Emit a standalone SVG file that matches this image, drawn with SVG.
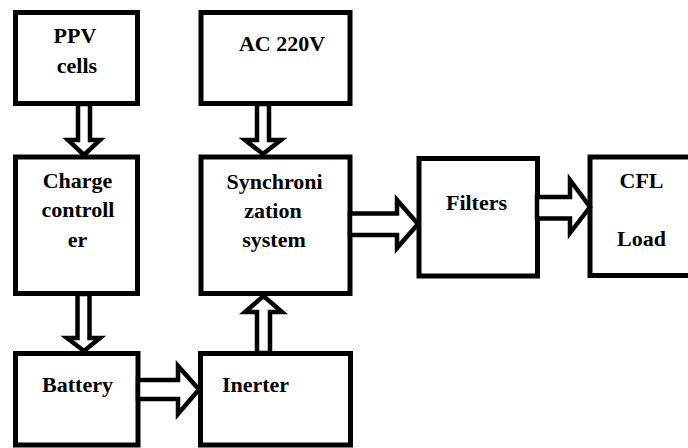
<svg xmlns="http://www.w3.org/2000/svg" width="688" height="448" viewBox="0 0 688 448">
<style>
.box{fill:#fff;stroke:#000;stroke-width:5}
.arr{fill:#fff;stroke:#000;stroke-width:4.5;stroke-linejoin:miter}
.t{font-family:'Liberation Serif','DejaVu Serif',serif;font-weight:700;font-size:22px;fill:#000;text-anchor:middle}
</style>
<rect width="688" height="448" fill="#fff"/>
<g id="ppv"><rect class="box" x="15.5" y="12.5" width="122" height="91"/><text class="t" font-family="Liberation Serif, serif" x="75" y="43">PPV</text><text class="t" font-family="Liberation Serif, serif" x="77" y="73">cells</text></g>
<g id="ac"><rect class="box" x="201" y="12.5" width="149" height="91"/><text class="t" font-family="Liberation Serif, serif" x="282" y="50.5">AC 220V</text></g>
<g id="charge"><rect class="box" x="15.5" y="157" width="122" height="136.5"/><text class="t" font-family="Liberation Serif, serif" x="77.5" y="188">Charge</text><text class="t" font-family="Liberation Serif, serif" x="78" y="217">controll</text><text class="t" font-family="Liberation Serif, serif" x="77.5" y="247">er</text></g>
<g id="sync"><rect class="box" x="201" y="157" width="149" height="136.5"/><text class="t" font-family="Liberation Serif, serif" x="274.5" y="189">Synchroni</text><text class="t" font-family="Liberation Serif, serif" x="273" y="218">zation</text><text class="t" font-family="Liberation Serif, serif" x="274" y="247">system</text></g>
<g id="battery"><rect class="box" x="15.5" y="353.5" width="122.5" height="91.5"/><text class="t" font-family="Liberation Serif, serif" x="77.5" y="392">Battery</text></g>
<g id="inerter"><rect class="box" x="200.5" y="353.5" width="150" height="91.5"/><text class="t" font-family="Liberation Serif, serif" x="255.5" y="392">Inerter</text></g>
<g id="filters"><rect class="box" x="419" y="158.5" width="118.5" height="117.5"/><text class="t" font-family="Liberation Serif, serif" x="476.5" y="210">Filters</text></g>
<g id="cfl"><rect class="box" x="590" y="157" width="130" height="118.5"/><text class="t" font-family="Liberation Serif, serif" x="641.5" y="188">CFL</text><text class="t" font-family="Liberation Serif, serif" x="641.5" y="246">Load</text></g>
<g id="connectors">
<polygon class="arr" points="78,104 90,104 90,140 100,140 84,155 68,140 78,140"/>
<polygon class="arr" points="77.5,294 89.5,294 89.5,338 100,338 84,351 67,338 77.5,338"/>
<polygon class="arr" points="257,104 269,104 269,140 281,140 263,154 245,140 257,140"/>
<polygon class="arr" points="257,353 270,353 270,312 282,312 263.5,296 245,312 257,312"/>
<polygon class="arr" points="138,380 178,380 178,366 199,389.5 178,414 178,399 138,399"/>
<polygon class="arr" points="350,213.5 397,213.5 397,200 418,224 397,248 397,235 350,235"/>
<polygon class="arr" points="537,197 570,197 570,180 590,207 570,233 570,218.5 537,218.5"/>
</g>
</svg>
